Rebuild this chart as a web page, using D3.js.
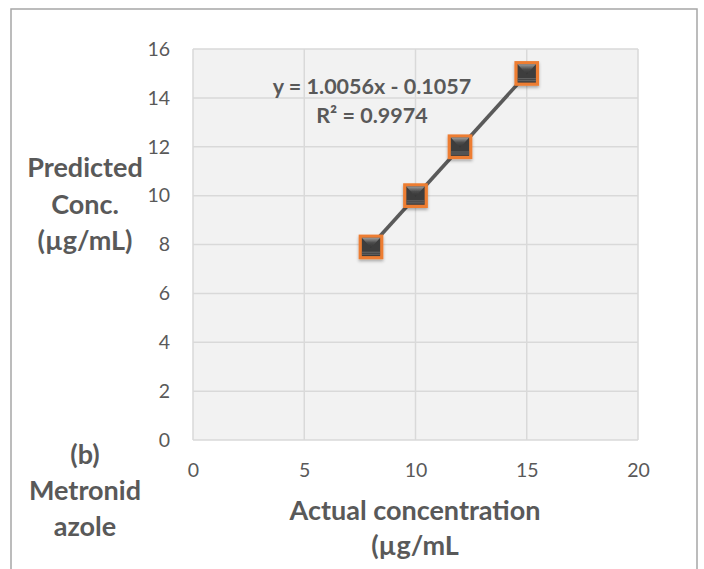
<!DOCTYPE html>
<html>
<head>
<meta charset="utf-8">
<script src="https://cdn.jsdelivr.net/npm/d3@7"></script>
<style>
  body { margin: 0; background: #fff; }
  text { font-family: Lato, "Open Sans", sans-serif; fill: #595959; }
</style>
</head>
<body>
<div id="chart"></div>
<script>
// data
const actual = [8, 10, 12, 15];
const predicted = [7.9, 10, 12, 15];
const xTicks = [0, 5, 10, 15, 20];
const yTicks = [0, 2, 4, 6, 8, 10, 12, 14, 16];
const slope = 1.0056, intercept = -0.1057, r2 = 0.9974;
const yTitle = ["Predicted", "Conc.", "(µg/mL)"];
const xTitle = ["Actual concentration", "(µg/mL"];
const caption = ["(b)", "Metronid", "azole"];

const W = 704, H = 569;
const plot = {left: 193, top: 49, right: 638, bottom: 440};

const svg = d3.select("#chart").append("svg")
    .attr("width", W).attr("height", H);

// outer chart border (bottom runs off the picture)
svg.append("path")
    .attr("d", `M11,${H} V9 H697 V${H}`)
    .attr("fill", "none")
    .attr("stroke", "#a6a6a6")
    .attr("stroke-width", 1.5);

const x = d3.scaleLinear().domain([0, 20]).range([plot.left, plot.right]);
const y = d3.scaleLinear().domain([0, 16]).range([plot.bottom, plot.top]);

// plot area
svg.append("rect")
    .attr("x", plot.left).attr("y", plot.top)
    .attr("width", plot.right - plot.left).attr("height", plot.bottom - plot.top)
    .attr("fill", "#f2f2f2");

// grid
const grid = svg.append("g").attr("stroke", "#d9d9d9").attr("stroke-width", 1.5);
grid.selectAll("line.h").data(yTicks).join("line")
    .attr("class", "h")
    .attr("x1", plot.left).attr("x2", plot.right)
    .attr("y1", d => y(d)).attr("y2", d => y(d));
grid.selectAll("line.v").data(xTicks).join("line")
    .attr("class", "v")
    .attr("x1", d => x(d)).attr("x2", d => x(d))
    .attr("y1", plot.top).attr("y2", plot.bottom);

// axes (labels only, Excel style)
const yAxis = svg.append("g")
    .attr("transform", `translate(${plot.left},0)`)
    .call(d3.axisLeft(y).tickValues(yTicks).tickSize(0).tickPadding(23));
const xAxis = svg.append("g")
    .attr("transform", `translate(0,${plot.bottom})`)
    .call(d3.axisBottom(x).tickValues(xTicks).tickSize(0).tickPadding(23));
[yAxis, xAxis].forEach(a => {
    a.select(".domain").remove();
    a.selectAll("text")
        .style("font-family", "Lato, 'Open Sans', sans-serif")
        .style("font-size", "19.5px")
        .attr("fill", "#595959");
});

// trendline
const line = d3.line().x(d => x(d)).y(d => y(slope * d + intercept));
svg.append("path")
    .datum(d3.extent(actual))
    .attr("d", line)
    .attr("fill", "none")
    .attr("stroke", "#5a5a5a")
    .attr("stroke-width", 3.6);

// markers
const defs = svg.append("defs");
const grad = defs.append("linearGradient").attr("id", "mk")
    .attr("x1", 0).attr("y1", 0).attr("x2", 0).attr("y2", 1);
grad.append("stop").attr("offset", "0%").attr("stop-color", "#9a9a9a");
grad.append("stop").attr("offset", "50%").attr("stop-color", "#4a4a4a");
grad.append("stop").attr("offset", "100%").attr("stop-color", "#333");
const shadow = defs.append("filter").attr("id", "sh")
    .attr("x", "-50%").attr("y", "-50%").attr("width", "200%").attr("height", "200%");
shadow.append("feDropShadow").attr("dx", 0).attr("dy", 2).attr("stdDeviation", 1.5)
    .attr("flood-color", "#000").attr("flood-opacity", 0.3);

const pts = actual.map((a, i) => ({a, p: predicted[i]}));
const ms = 21.5;
const mk = svg.append("g").selectAll("g").data(pts).join("g")
    .attr("transform", d => `translate(${x(d.a)},${y(d.p)})`)
    .attr("filter", "url(#sh)");
mk.append("rect")
    .attr("x", -ms / 2).attr("y", -ms / 2)
    .attr("width", ms).attr("height", ms)
    .attr("fill", "#3d3d3d")
    .attr("stroke", "#ed7d31")
    .attr("stroke-width", 3.2);
mk.append("path")
    .attr("d", `M${-ms / 2 + 1.6},${-ms / 2 + 1.6} H${ms / 2 - 1.6} L0,${1} Z`)
    .attr("fill", "url(#mk)");
[6, 4].forEach(o => mk.append("rect")
    .attr("x", -ms / 2 + 1.6).attr("y", ms / 2 - o)
    .attr("width", ms - 3.2).attr("height", 1)
    .attr("fill", "#6a6a6a"));

// trendline label
const eq = svg.append("text")
    .attr("text-anchor", "middle")
    .style("font-size", "21.5px").style("font-weight", "bold");
eq.append("tspan").attr("x", 372).attr("y", 94)
    .text(`y = ${slope}x - ${Math.abs(intercept)}`);
eq.append("tspan").attr("x", 372).attr("y", 123)
    .text(`R² = ${r2}`);

// multi-line bold titles
function block(lines, cx, y0, dy) {
    const t = svg.append("text")
        .attr("text-anchor", "middle")
        .style("font-size", "27px").style("font-weight", "bold");
    lines.forEach((s, i) => t.append("tspan").attr("x", cx).attr("y", y0 + i * dy).text(s));
}
block(yTitle, 85, 177, 36.5);
block(caption, 85, 464, 36);
block(xTitle, 415, 520, 35);
</script>
</body>
</html>
